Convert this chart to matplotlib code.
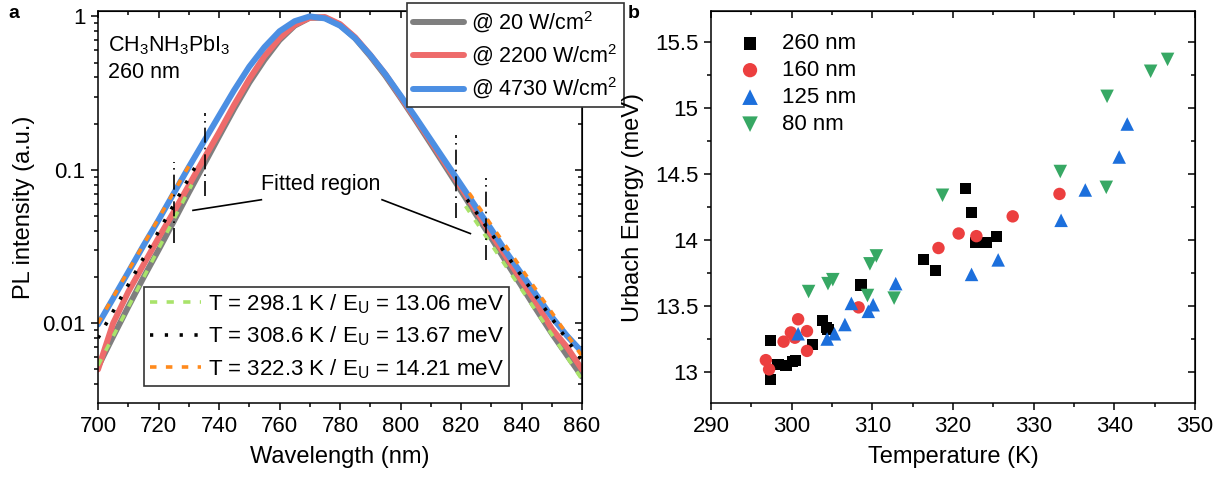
import matplotlib
matplotlib.use("Agg")
import matplotlib.pyplot as plt
from matplotlib.ticker import MultipleLocator, LogLocator, NullFormatter, FixedLocator

plt.rcParams['font.family'] = ['Liberation Sans', 'DejaVu Sans']
plt.rcParams['mathtext.fontset'] = 'custom'
plt.rcParams['mathtext.rm'] = 'Liberation Sans'
plt.rcParams['mathtext.it'] = 'Liberation Sans'
plt.rcParams['mathtext.default'] = 'regular'

# ---------------- Panel a data ----------------
wavelength = [700, 705, 710, 715, 720, 725, 730, 735, 740, 745, 750, 755, 760, 765,
              770, 775, 780, 785, 790, 795, 800, 805, 810, 815, 820, 825, 830, 835,
              840, 845, 850, 855, 860]
pl_20 = [0.0052, 0.0082, 0.0128, 0.0198, 0.030, 0.046, 0.071, 0.108, 0.165, 0.25, 0.37,
         0.52, 0.70, 0.87, 0.98, 0.98, 0.88, 0.72, 0.55, 0.41, 0.295, 0.21, 0.148, 0.104,
         0.073, 0.051, 0.036, 0.025, 0.0175, 0.0122, 0.0086, 0.0062, 0.0045]
pl_2200 = [0.0050, 0.0100, 0.0160, 0.0240, 0.036, 0.053, 0.079, 0.118, 0.175, 0.265, 0.39,
           0.55, 0.72, 0.88, 0.98, 0.99, 0.89, 0.73, 0.56, 0.42, 0.30, 0.215, 0.153, 0.108,
           0.077, 0.054, 0.038, 0.027, 0.019, 0.0135, 0.0092, 0.0070, 0.0050]
pl_4730 = [0.0098, 0.0145, 0.0215, 0.032, 0.047, 0.070, 0.104, 0.153, 0.225, 0.33, 0.47,
           0.63, 0.80, 0.93, 1.0, 0.97, 0.87, 0.72, 0.56, 0.42, 0.305, 0.22, 0.157, 0.112,
           0.080, 0.057, 0.041, 0.029, 0.021, 0.0152, 0.011, 0.0083, 0.0065]
power_labels = ['@ 20 W/cm$^2$', '@ 2200 W/cm$^2$', '@ 4730 W/cm$^2$']

# exponential fits (end points of the straight lines on log scale)
fit_left_x = {'298': [700, 731], '308': [700, 732], '322': [700, 730.5]}
fit_left_y = {'298': [0.0053, 0.080], '308': [0.0080, 0.103], '322': [0.0100, 0.110]}
fit_right_x = {'298': [821.5, 860], '308': [822, 860], '322': [822.7, 860]}
fit_right_y = {'298': [0.058, 0.0043], '308': [0.064, 0.0057], '322': [0.0705, 0.0061]}
fit_labels = ['T = 298.1 K / E$_U$ = 13.06 meV',
              'T = 308.6 K / E$_U$ = 13.67 meV',
              'T = 322.3 K / E$_U$ = 14.21 meV']

# fitted-region markers
region_x = [725.2, 735.3, 818.4, 828.3]
region_lo = [0.0334, 0.067, 0.0486, 0.026]
region_hi = [0.113, 0.233, 0.169, 0.088]

# ---------------- Panel b data ----------------
T_260 = [297.4, 297.4, 298.3, 299.3, 300.1, 300.5, 302.6, 303.8, 304.3, 304.5, 308.6,
         316.3, 317.8, 321.5, 322.3, 322.8, 324.2, 325.4]
E_260 = [13.24, 12.94, 13.06, 13.05, 13.08, 13.09, 13.21, 13.39, 13.34, 13.32, 13.66,
         13.85, 13.77, 14.39, 14.21, 13.98, 13.98, 14.03]
T_160 = [296.8, 297.2, 299.0, 299.9, 300.4, 300.8, 301.9, 301.9, 308.3, 318.2, 320.7,
         322.9, 327.4, 333.2]
E_160 = [13.09, 13.02, 13.23, 13.30, 13.26, 13.40, 13.31, 13.16, 13.49, 13.94, 14.05,
         14.03, 14.18, 14.35]
T_125 = [300.8, 304.4, 305.3, 306.6, 307.4, 309.5, 310.1, 312.9, 322.3, 325.6, 333.4,
         336.4, 340.6, 341.6]
E_125 = [13.29, 13.25, 13.29, 13.36, 13.52, 13.46, 13.51, 13.67, 13.74, 13.85, 14.15,
         14.38, 14.63, 14.88]
T_80 = [302.1, 304.5, 305.1, 309.7, 310.5, 309.4, 312.7, 318.7, 333.3, 339.0, 339.1,
        344.5, 346.6]
E_80 = [13.61, 13.67, 13.70, 13.82, 13.88, 13.58, 13.56, 14.34, 14.52, 14.40, 15.09,
        15.28, 15.37]
thickness_labels = ['260 nm', '160 nm', '125 nm', '80 nm']

# ---------------- Figure ----------------
W, H = 1225, 483
fig = plt.figure(figsize=(W / 100, H / 100), dpi=100)
axa = fig.add_axes([98 / W, 1 - 403 / H, 484 / W, 392 / H])
axb = fig.add_axes([711 / W, 1 - 403 / H, 484 / W, 392 / H])

FS = 16      # tick labels
FSL = 17     # axis labels
FSG = 15.5   # legends / annotations
LW_AX = 1.1

def style(ax):
    for s in ax.spines.values():
        s.set_linewidth(LW_AX)
    ax.tick_params(which='both', direction='out', width=LW_AX, labelsize=FS, pad=4)
    ax.tick_params(which='major', length=5)
    ax.tick_params(which='minor', length=3)

# ---- panel a ----
c_gray, c_red, c_blue = '#7f7f7f', '#ee6b6b', '#4c8fe3'
lw_c = 4.3
l1, = axa.plot(wavelength, pl_20, color=c_gray, lw=lw_c, solid_capstyle='round', label=power_labels[0])
l2, = axa.plot(wavelength, pl_2200, color=c_red, lw=lw_c, solid_capstyle='round', label=power_labels[1])
l3, = axa.plot(wavelength, pl_4730, color=c_blue, lw=lw_c, solid_capstyle='round', label=power_labels[2])

fit_colors = {'298': '#a9e36a', '308': '#000000', '322': '#ff8a1c'}
fit_styles = {'298': (0, (2.0, 2.6)), '308': (0, (0.9, 3.2)), '322': (0, (1.8, 2.6))}
fit_handles = []
for key in ['298', '308', '322']:
    h, = axa.plot(fit_left_x[key], fit_left_y[key], color=fit_colors[key], lw=2.6,
                  linestyle=fit_styles[key])
    axa.plot(fit_right_x[key], fit_right_y[key], color=fit_colors[key], lw=2.6,
             linestyle=fit_styles[key])
    fit_handles.append(h)

axa.vlines(region_x, region_lo, region_hi, colors='black', lw=1.2,
           linestyles=[(0, (9, 3, 1, 3))])

axa.set_yscale('log')
axa.set_xlim(700, 860)
axa.set_ylim(10 ** -2.52, 10 ** 0.035)
axa.xaxis.set_major_locator(MultipleLocator(20))
axa.xaxis.set_minor_locator(MultipleLocator(10))
axa.yaxis.set_major_locator(FixedLocator([0.01, 0.1, 1]))
axa.yaxis.set_major_formatter(matplotlib.ticker.FixedFormatter(['0.01', '0.1', '1']))
axa.yaxis.set_minor_locator(LogLocator(base=10, subs=range(2, 10)))
axa.yaxis.set_minor_formatter(NullFormatter())
style(axa)
axa.set_xlabel('Wavelength (nm)', fontsize=FSL, labelpad=7)
axa.set_ylabel('PL intensity (a.u.)', fontsize=FSL, labelpad=5)

axa.text(0.02, 0.913, 'CH$_3$NH$_3$PbI$_3$', transform=axa.transAxes, fontsize=FSG,
         ha='left', va='center')
axa.text(0.02, 0.844, '260 nm', transform=axa.transAxes, fontsize=FSG, ha='left', va='center')
axa.text(773.7, 0.08, 'Fitted region', fontsize=FSG, ha='center', va='center')
axa.plot([754, 731.4], [0.0638, 0.0544], color='black', lw=1.2)
axa.plot([793.9, 823.1], [0.0638, 0.0384], color='black', lw=1.2)

leg1 = axa.legend(handles=[l1, l2, l3], loc='upper left',
                  bbox_to_anchor=(406.7 / W, 1 - 3.3 / H), bbox_transform=fig.transFigure,
                  fontsize=FSG, frameon=True, fancybox=False, edgecolor='#333333',
                  framealpha=1, borderpad=0.28, borderaxespad=0, handlelength=2.4,
                  handletextpad=0.33, labelspacing=0.36)
leg1.get_frame().set_linewidth(1.2)
leg1.set_zorder(10)
axa.add_artist(leg1)

leg2 = axa.legend(handles=fit_handles, labels=fit_labels, loc='upper left',
                  bbox_to_anchor=(144.3 / W, 1 - 286.7 / H), bbox_transform=fig.transFigure,
                  fontsize=16, frameon=True, fancybox=False, edgecolor='#333333',
                  framealpha=1, borderpad=0.25, borderaxespad=0, handlelength=2.3,
                  handletextpad=0.3, labelspacing=0.4)
leg2.get_frame().set_linewidth(1.2)

# mirrored ticks on top/right (inward)
def mirror(ax):
    ax2 = ax.secondary_xaxis('top')
    ax2.tick_params(which='both', direction='in', width=LW_AX, labeltop=False)
    ax2.tick_params(which='major', length=5)
    ax2.tick_params(which='minor', length=3)
    ax2.xaxis.set_major_locator(ax.xaxis.get_major_locator())
    ax2.xaxis.set_minor_locator(ax.xaxis.get_minor_locator())
    ax2.set_xticklabels([])
    ay2 = ax.secondary_yaxis('right')
    ay2.tick_params(which='both', direction='in', width=LW_AX, labelright=False)
    ay2.tick_params(which='major', length=5)
    ay2.tick_params(which='minor', length=3)
    ay2.yaxis.set_major_locator(ax.yaxis.get_major_locator())
    ay2.yaxis.set_minor_locator(ax.yaxis.get_minor_locator())
    ay2.yaxis.set_minor_formatter(NullFormatter())
    ay2.set_yticklabels([])

mirror(axa)

# ---- panel b ----
cb_black, cb_red, cb_blue, cb_green = '#000000', '#ec3f3f', '#1c6fdc', '#37a864'
axb.scatter(T_260, E_260, marker='s', s=64, color=cb_black, edgecolors='none', label=thickness_labels[0], zorder=3)
axb.scatter(T_160, E_160, marker='o', s=80, color=cb_red, edgecolors='none', label=thickness_labels[1], zorder=3)
axb.scatter(T_125, E_125, marker='^', s=95, color=cb_blue, edgecolors='none', label=thickness_labels[2], zorder=3)
axb.scatter(T_80, E_80, marker='v', s=95, color=cb_green, edgecolors='none', label=thickness_labels[3], zorder=3)
axb.set_xlim(290, 350)
axb.set_ylim(12.765, 15.737)
axb.xaxis.set_major_locator(MultipleLocator(10))
axb.xaxis.set_minor_locator(MultipleLocator(5))
axb.yaxis.set_major_locator(MultipleLocator(0.5))
axb.yaxis.set_minor_locator(MultipleLocator(0.25))
axb.yaxis.set_major_formatter(matplotlib.ticker.FuncFormatter(lambda v, p: f'{v:g}'))
style(axb)
axb.set_xlabel('Temperature (K)', fontsize=FSL, labelpad=7)
axb.set_ylabel('Urbach Energy (meV)', fontsize=FSL, labelpad=8)
axb.legend(loc='upper left', bbox_to_anchor=(736.7 / W, 1 - 33 / H), bbox_transform=fig.transFigure,
           fontsize=FS, frameon=False, borderpad=0, borderaxespad=0, handletextpad=0.84,
           labelspacing=0.27, scatterpoints=1, handlelength=1.2, markerscale=1.15)
mirror(axb)

fig.text(8 / W, 1 - 14 / H, 'a', fontsize=14, fontweight='bold', ha='left', va='center')
fig.text(628 / W, 1 - 14 / H, 'b', fontsize=14, fontweight='bold', ha='left', va='center')

fig.savefig('out.png', dpi=100)
